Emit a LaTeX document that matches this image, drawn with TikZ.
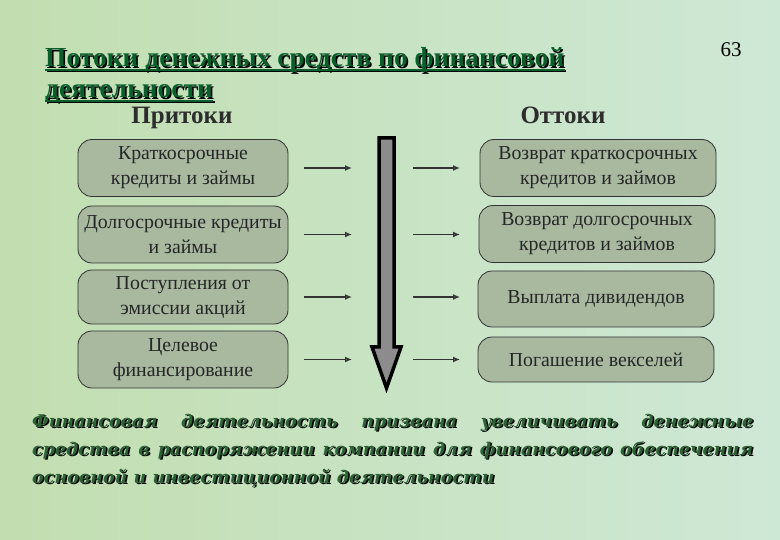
\documentclass[tikz,border=0pt]{standalone}
\usepackage{fontspec}
\setmainfont{Liberation Serif}
\newfontfamily\notefont{DejaVu Serif}
\usetikzlibrary{calc, arrows.meta}

\definecolor{bgleft}{RGB}{194,222,176}
\definecolor{bgmid}{RGB}{204,230,204}
\definecolor{bgright}{RGB}{206,232,214}
\definecolor{boxfill}{RGB}{168,185,160}
\definecolor{titlegreen}{RGB}{10,94,42}
\definecolor{notegreen}{RGB}{44,98,52}
\definecolor{headgray}{RGB}{45,45,45}

\tikzset{
  ttl/.style={anchor=base west, inner sep=0pt, font=\bfseries\fontsize{27.5}{30}\selectfont},
  head/.style={anchor=base, inner sep=0pt, text=headgray, font=\bfseries\fontsize{25}{28}\selectfont},
  item/.style={draw=black!80, line width=0.8pt, rounded corners=14pt, fill=boxfill,
    text=black!85, align=center, inner sep=2pt, minimum height=57pt,
    font=\fontsize{19.8}{25}\selectfont},
  initem/.style={item, minimum width=210pt},
  outitem/.style={item, minimum width=236pt},
  feed/.style={draw=black!80, line width=1.5pt, -{Latex[open, length=7pt, width=6pt]}},
  note/.style={anchor=base west, inner sep=0pt, font=\notefont\bfseries\itshape\fontsize{17.5}{27}\selectfont}
}

\begin{document}
\begin{tikzpicture}[x=1pt, y=-1pt]
  \useasboundingbox (0,0) rectangle (780,540);
  \fill[left color=bgleft, middle color=bgmid, right color=bgright] (0,0) rectangle (780,540);

  % заголовок с тенью
  \node[ttl, text=black] (t1s) at (46.5,68.5) {Потоки денежных средств по финансовой};
  \node[ttl, text=black] (t2s) at (46.5,99.5) {деятельности};
  \draw[black, line width=2pt] ($(t1s.base west)+(0,3)$) -- ($(t1s.base east)+(0,3)$);
  \draw[black, line width=2pt] ($(t2s.base west)+(0,3)$) -- ($(t2s.base east)+(0,3)$);
  \node[ttl, text=titlegreen] (t1) at (45,67) {Потоки денежных средств по финансовой};
  \node[ttl, text=titlegreen] (t2) at (45,98) {деятельности};
  \draw[titlegreen, line width=2pt] ($(t1.base west)+(0,3)$) -- ($(t1.base east)+(0,3)$);
  \draw[titlegreen, line width=2pt] ($(t2.base west)+(0,3)$) -- ($(t2.base east)+(0,3)$);

  \node[anchor=base, inner sep=0pt, font=\fontsize{21}{24}\selectfont] (page) at (731,57) {63};

  \node[head] (hin)  at (182,124) {Притоки};
  \node[head] (hout) at (563,124) {Оттоки};

  % притоки
  \node[initem] (in1) at (183,168)   {Краткосрочные\\кредиты и займы};
  \node[initem] (in2) at (183,234.5) {Долгосрочные кредиты\\и займы};
  \node[initem, minimum height=54pt] (in3) at (183,297) {Поступления от\\эмиссии акций};
  \node[initem] (in4) at (183,359.5) {Целевое\\финансирование};

  % оттоки
  \node[outitem] (out1) at (598,168)   {Возврат краткосрочных\\кредитов и займов};
  \node[outitem] (out2) at (597,234)   {Возврат долгосрочных\\кредитов и займов};
  \node[outitem, minimum height=56pt] (out3) at (596,299) {Выплата дивидендов};
  \node[outitem, minimum height=45pt] (out4) at (596,359.5) {Погашение векселей};

  % большая стрелка вниз
  \coordinate (shaftL) at (379,138);
  \coordinate (shaftR) at (394,138);
  \coordinate (tip)    at (386.5,388);
  \coordinate (outL)   at (478,138);
  \draw[line width=3.5pt, fill=black!45, line join=miter]
    (shaftL) -- (shaftR) -- (394,347) -- (401,347) -- (tip) -- (372,347) -- (379,347) -- cycle;

  \foreach \i in {1,...,4} {
    \draw[feed, shorten <=16pt, shorten >=27pt] (in\i.east) -- (in\i.east -| shaftL);
    \draw[feed, shorten <=19pt, shorten >=18pt] (in\i.east -| shaftR) -- (in\i.east -| outL);
  }

  % вывод
  \node[note, text=black] (n1s) at (33.5,428.5) {\makebox[721pt][s]{Финансовая деятельность призвана увеличивать денежные}};
  \node[note, text=black] (n2s) at (33.5,456.5) {\makebox[721pt][s]{средства в распоряжении компании для финансового обеспечения}};
  \node[note, text=black] (n3s) at (33.5,484.5) {основной и инвестиционной деятельности};
  \node[note, text=notegreen] (n1) at (32,427) {\makebox[721pt][s]{Финансовая деятельность призвана увеличивать денежные}};
  \node[note, text=notegreen] (n2) at (32,455) {\makebox[721pt][s]{средства в распоряжении компании для финансового обеспечения}};
  \node[note, text=notegreen] (n3) at (32,483) {основной и инвестиционной деятельности};
\end{tikzpicture}
\end{document}
